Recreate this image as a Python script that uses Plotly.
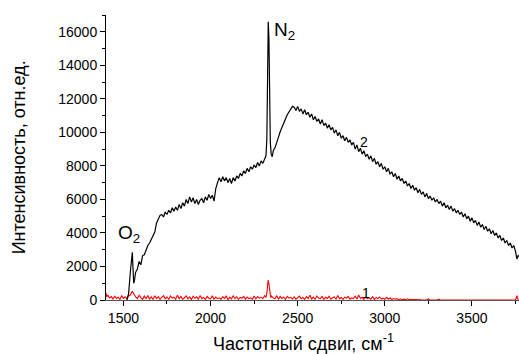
import plotly.graph_objects as go

# ---- data ----
black_x = [1520, 1530, 1540, 1547, 1551, 1555, 1559, 1563, 1570, 1580, 1590, 1600, 1610, 1620, 1630, 1640,
           1650, 1660, 1670, 1680, 1690, 1700, 1710, 1720, 1730, 1740, 1750, 1760, 1770, 1780, 1790, 1800,
           1810, 1820, 1830, 1840, 1850, 1860, 1870, 1880, 1890, 1900, 1910, 1920, 1930, 1940, 1950, 1960,
           1970, 1980, 1990, 2000, 2010, 2020, 2030, 2040, 2050, 2060, 2070, 2080, 2090, 2100, 2110, 2120,
           2130, 2140, 2150, 2160, 2170, 2180, 2190, 2200, 2210, 2220, 2230, 2240, 2250, 2260, 2270, 2280,
           2290, 2300, 2310, 2318, 2323, 2327, 2331, 2335, 2339, 2343, 2348, 2354, 2360, 2370, 2380, 2390,
           2400, 2410, 2420, 2430, 2440, 2450, 2460, 2470, 2480, 2490, 2500, 2510, 2520, 2530, 2540, 2550,
           2560, 2570, 2580, 2590, 2600, 2610, 2620, 2630, 2640, 2650, 2660, 2670, 2680, 2690, 2700, 2710,
           2720, 2730, 2740, 2750, 2760, 2770, 2780, 2790, 2800, 2810, 2820, 2830, 2840, 2850, 2860, 2870,
           2880, 2890, 2900, 2910, 2920, 2930, 2940, 2950, 2960, 2970, 2980, 2990, 3000, 3010, 3020, 3030,
           3040, 3050, 3060, 3070, 3080, 3090, 3100, 3110, 3120, 3130, 3140, 3150, 3160, 3170, 3180, 3190,
           3200, 3210, 3220, 3230, 3240, 3250, 3260, 3270, 3280, 3290, 3300, 3310, 3320, 3330, 3340, 3350,
           3360, 3370, 3380, 3390, 3400, 3410, 3420, 3430, 3440, 3450, 3460, 3470, 3480, 3490, 3500, 3510,
           3520, 3530, 3540, 3550, 3560, 3570, 3580, 3590, 3600, 3610, 3620, 3630, 3640, 3650, 3660, 3670,
           3680, 3690, 3700, 3710, 3720, 3730, 3740, 3750, 3758, 3765, 3770]
black_y = [0, 400, 1700, 2700, 2850, 1900, 1000, 1150, 1650, 1850, 2300, 2100, 2650, 2700, 3050, 3250,
           3400, 3600, 3800, 4050, 4600, 4800, 5050, 5100, 4950, 5250, 5100, 5350, 5200, 5500, 5300, 5550,
           5350, 5700, 5450, 5800, 5600, 6000, 5750, 6150, 5850, 6100, 5750, 6000, 5700, 5950, 6050, 5800,
           6150, 5950, 6300, 6050, 6250, 5900, 6650, 7000, 7300, 7050, 7350, 7100, 7300, 7000, 7250, 6950,
           7300, 7100, 7400, 7250, 7550, 7400, 7700, 7550, 7850, 7650, 7950, 7800, 8050, 7900, 8200, 8000,
           8300, 8150, 8400, 8600, 9600, 13200, 16600, 15600, 11800, 9400, 8700, 8550, 8900, 9100, 9400, 9800,
           10050, 10300, 10600, 10800, 11050, 11200, 11400, 11550, 11500, 11300, 11550, 11250, 11400, 11100, 11350, 11050,
           11200, 10900, 11100, 10750, 10950, 10650, 10800, 10500, 10750, 10400, 10550, 10250, 10450, 10150, 10300, 9950,
           10150, 9800, 10000, 9650, 9800, 9500, 9700, 9400, 9550, 9250, 9400, 9000, 9250, 8850, 9050, 8700,
           8900, 8550, 8700, 8400, 8600, 8250, 8450, 8100, 8250, 7950, 8150, 7800, 7950, 7650, 7850, 7500,
           7650, 7350, 7550, 7200, 7400, 7100, 7250, 6950, 7100, 6800, 6950, 6650, 6850, 6550, 6700, 6400,
           6600, 6300, 6450, 6150, 6350, 6050, 6200, 5950, 6100, 5850, 6000, 5750, 5900, 5600, 5800, 5500,
           5650, 5400, 5600, 5300, 5450, 5200, 5350, 5100, 5250, 4950, 5150, 4850, 5000, 4700, 4900, 4600,
           4750, 4450, 4650, 4350, 4500, 4200, 4400, 4100, 4250, 3950, 4150, 3850, 4000, 3700, 3850, 3550,
           3700, 3400, 3550, 3250, 3400, 3100, 3250, 2900, 2450, 2650, 2600]

red_x = [1400, 1405, 1410, 1420, 1430, 1440, 1450, 1460, 1470, 1480, 1490, 1500, 1510, 1520, 1530, 1540,
         1550, 1556, 1562, 1570, 1580, 1590,
         1600, 1610, 1620, 1630, 1640, 1650, 1660, 1670, 1680, 1690, 1700, 1710, 1720, 1730, 1740, 1750,
         1760, 1770, 1780, 1790, 1800, 1810, 1820, 1830, 1840, 1850, 1860, 1870, 1880, 1890, 1900, 1910,
         1920, 1930, 1940, 1950, 1960, 1970, 1980, 1990, 2000, 2010, 2020, 2030, 2040, 2050, 2060, 2070,
         2080, 2090, 2100, 2110, 2120, 2130, 2140, 2150, 2160, 2170, 2180, 2190, 2200, 2210, 2220, 2230,
         2240, 2250, 2260, 2270, 2280, 2290, 2300, 2310,
         2318, 2324, 2330, 2335, 2340, 2345,
         2350, 2360, 2370, 2380, 2390, 2400, 2410, 2420, 2430, 2440, 2450, 2460, 2470, 2480, 2490, 2500,
         2510, 2520, 2530, 2540, 2550, 2560, 2570, 2580, 2590, 2600, 2610, 2620, 2630, 2640, 2650, 2660,
         2670, 2680, 2690, 2700, 2710, 2720, 2730, 2740, 2750, 2760, 2770, 2780, 2790, 2800, 2810, 2820,
         2830, 2840, 2850, 2860, 2870, 2880, 2890, 2900, 2910, 2920, 2930, 2940, 2950, 2960, 2970, 2980,
         2990, 3000, 3010, 3020, 3030, 3040, 3050, 3060, 3070, 3080, 3090, 3100, 3110, 3120, 3130, 3140,
         3150, 3160, 3170, 3180, 3190, 3200,
         3210, 3240, 3250, 3258, 3300, 3310, 3318, 3400, 3410, 3418, 3750, 3758, 3765]
red_y = [420, 180, 300, 120, 200, 60, 230, 90, 170, 40, 250, 100, 190, 70, 260, 300,
         520, 400, 260, 190, 90, 280,
         140, 40, 230, 90, 270, 60, 180, 30, 250, 80, 200, 40, 150, 260, 70, 190,
         30, 240, 110, 170, 50, 290, 80, 210, 40, 130, 240, 70, 180, 30, 230, 100,
         190, 50, 270, 80, 150, 40, 210, 110, 70, 250, 50, 170, 80, 130, 40, 200,
         90, 230, 30, 160, 70, 260, 80, 190, 40, 150, 110, 210, 50, 170, 80, 130,
         40, 240, 70, 200, 110, 160, 80, 260,
         160, 480, 1180, 980, 380, 140,
         240, 120, 80, 260, 50, 210, 90, 170, 40, 220, 110, 160, 60, 190, 50, 130,
         230, 80, 150, 40, 200, 90, 280, 60, 170, 50, 240, 120, 80, 210, 40, 160,
         90, 220, 50, 130, 180, 60, 270, 80, 150, 40, 170, 110, 210, 50, 130, 80,
         230, 60, 300, 90, 160, 40, 180, 80, 130, 50, 200, 30, 150, 80, 180, 50,
         110, 40, 160, 60, 120, 30, 90, 50, 80, 20, 60, 30, 50, 10, 70, 20,
         30, 10, 40, 20, 10, 30,
         0, 0, 60, 0, 0, 50, 0, 0, 40, 0, 0, 260, 0]

x_ticks = [1500, 2000, 2500, 3000, 3500]
x_tick_labels = ["1500", "2000", "2500", "3000", "3500"]
x_minor = [1750, 2250, 2750, 3250, 3750]
y_ticks = [0, 2000, 4000, 6000, 8000, 10000, 12000, 14000, 16000]
y_tick_labels = ["0", "2000", "4000", "6000", "8000", "10000", "12000", "14000", "16000"]
y_minor = [1000, 3000, 5000, 7000, 9000, 11000, 13000, 15000, 17000]

x_title = "Частотный сдвиг, см<sup>-1</sup>"
y_title = "Интенсивность, отн.ед."

FONT = "Liberation Sans, Arial, sans-serif"

fig = go.Figure()
fig.add_trace(go.Scatter(x=red_x, y=red_y, mode="lines",
                         line=dict(color="#ff0000", width=1.1), name="1"))
fig.add_trace(go.Scatter(x=black_x, y=black_y, mode="lines",
                         line=dict(color="black", width=1.2), name="2"))

fig.update_layout(
    width=519, height=354,
    margin=dict(l=106, r=0, t=15, b=54),
    plot_bgcolor="white", paper_bgcolor="white",
    showlegend=False,
    font=dict(family=FONT, size=14, color="black"),
)
fig.update_xaxes(
    range=[1400, 3770], tickvals=x_ticks, ticktext=x_tick_labels,
    showgrid=False, zeroline=False,
    showline=True, linecolor="#555555", linewidth=1,
    ticks="outside", ticklen=5, tickcolor="black", tickwidth=1,
    minor=dict(tickvals=x_minor, ticks="outside", ticklen=3, tickcolor="black"),
    tickfont=dict(size=14),
)
fig.update_yaxes(
    range=[0, 17000], tickvals=y_ticks, ticktext=y_tick_labels,
    showgrid=False, zeroline=False,
    showline=True, linecolor="black", linewidth=1,
    ticks="outside", ticklen=5, tickcolor="black", tickwidth=1,
    minor=dict(tickvals=y_minor, ticks="outside", ticklen=3, tickcolor="black"),
    tickfont=dict(size=14),
)

annotations = [
    dict(text=x_title, xref="paper", yref="paper", x=0.477, y=-0.15,
         xanchor="center", yanchor="middle", showarrow=False, font=dict(size=18)),
    dict(text=y_title, xref="paper", yref="paper", x=-0.211, y=0.5, textangle=-90,
         xanchor="center", yanchor="middle", showarrow=False, font=dict(size=18)),
    dict(text="N<sub>2</sub>", x=2350, y=16900, xanchor="left", yanchor="top",
         showarrow=False, font=dict(size=19)),
    dict(text="O<sub>2</sub>", x=1460, y=4800, xanchor="left", yanchor="top",
         showarrow=False, font=dict(size=19)),
    dict(text="2", x=2880, y=9400, xanchor="center", yanchor="middle",
         showarrow=False, font=dict(size=14)),
    dict(text="1", x=2890, y=420, xanchor="center", yanchor="middle",
         showarrow=False, font=dict(size=14)),
]
fig.update_layout(annotations=annotations)

# remove the page's default body margin so the figure sits at the window's corner
fig.write_html("out.html",
               config={"displayModeBar": False},
               post_script="document.body.style.margin='0';document.body.style.overflow='hidden';")
